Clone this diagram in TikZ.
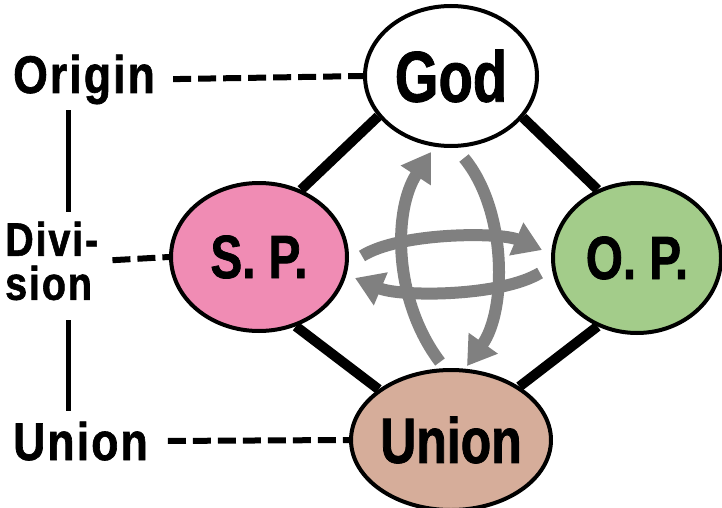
\documentclass[tikz,border=0pt]{standalone}
\usepackage{fontspec}
\setmainfont{Liberation Sans}
\newfontfamily\condfont[FakeStretch=0.78,FakeBold=1.2]{Liberation Sans}
\newfontfamily\condwide[FakeStretch=0.84,FakeBold=1.2,LetterSpace=4]{Liberation Sans}
\usetikzlibrary{shapes.geometric,arrows.meta,backgrounds,calc}
\definecolor{spPink}{RGB}{240,140,180}
\definecolor{opGreen}{RGB}{163,204,138}
\definecolor{unTan}{RGB}{214,173,154}
\definecolor{arGray}{RGB}{128,128,128}
\tikzset{
  circnode/.style={ellipse,draw=black,line width=4pt,inner sep=0pt},
  sidelabel/.style={inner sep=0pt,font=\condfont\bfseries\fontsize{53}{56}\selectfont},
  dashlink/.style={line width=6pt,dash pattern=on 18pt off 7pt},
  vline/.style={line width=5pt},
  diam/.style={line width=10pt},
  garrow/.style={draw=arGray,line width=12pt,-{Triangle[width=34pt,length=28pt]},arGray}
}
\begin{document}
\begin{tikzpicture}[x=1pt,y=-1pt]
\useasboundingbox (0,0) rectangle (722,508);
% main nodes
\node[circnode,fill=white,minimum width=172pt,minimum height=140pt,font=\condfont\bfseries\fontsize{72}{76}\selectfont] (God) at (451,76) {God};
\node[circnode,fill=spPink,minimum width=176pt,minimum height=148pt,font=\condfont\bfseries\fontsize{61}{64}\selectfont] (SP) at (259,257) {S. P.};
\node[circnode,fill=opGreen,minimum width=168pt,minimum height=150pt,font=\condfont\bfseries\fontsize{61}{64}\selectfont] (OP) at (637,258) {O. P.};
\node[circnode,fill=unTan,minimum width=172pt,minimum height=140pt,font=\condfont\bfseries\fontsize{64}{68}\selectfont] (Un) at (451,440) {Union};
% side labels
\node[sidelabel,anchor=base west,font=\condwide\bfseries\fontsize{53}{56}\selectfont] (orig) at (13,93) {Origin};
\node[sidelabel,anchor=west,align=left,font=\condwide\bfseries\fontsize{47}{44}\selectfont] (div) at (5,261) {Divi-\\sion};
\node[sidelabel,anchor=base west,font=\condwide\bfseries\fontsize{53}{56}\selectfont] (unl) at (13,460) {Union};
\coordinate (vx) at (68,0);
% diamond lines
\begin{scope}[on background layer]
\draw[diam] (God.209) -- (SP.58);
\draw[diam] (God.330) -- (OP.120);
\draw[diam] (SP.298) -- (Un.145);
\draw[diam] (OP.240) -- (Un.38);
\end{scope}
% dashed links
\draw[dashlink,shorten <=18pt] (orig.east) -- (God.west);
\draw[dashlink,shorten <=14pt] (div.east) -- (SP.west);
\draw[dashlink,shorten <=20pt] (unl.east) -- (Un.west);
% vertical lines
\draw[vline] ($(orig.south -| vx)+(0,6)$) -- ($(div.north -| vx)+(0,-10)$);
\draw[vline] ($(div.south -| vx)+(0,20)$) -- ($(unl.north -| vx)+(0,-10)$);
% gray arrows
\coordinate (a1s) at (440,362); \coordinate (a1e) at (431,152);
\coordinate (a2s) at (464,158); \coordinate (a2e) at (467,366);
\coordinate (a3s) at (362,256); \coordinate (a3e) at (542,250);
\coordinate (a4s) at (540,273); \coordinate (a4e) at (355,278);
\draw[garrow] (a1s) .. controls (393,300) and (393,210) .. (a1e);
\draw[garrow] (a2s) .. controls (507,210) and (507,310) .. (a2e);
\draw[garrow] (a3s) .. controls (400,232) and (500,232) .. (a3e);
\draw[garrow] (a4s) .. controls (500,297) and (400,297) .. (a4e);
\end{tikzpicture}
\end{document}
